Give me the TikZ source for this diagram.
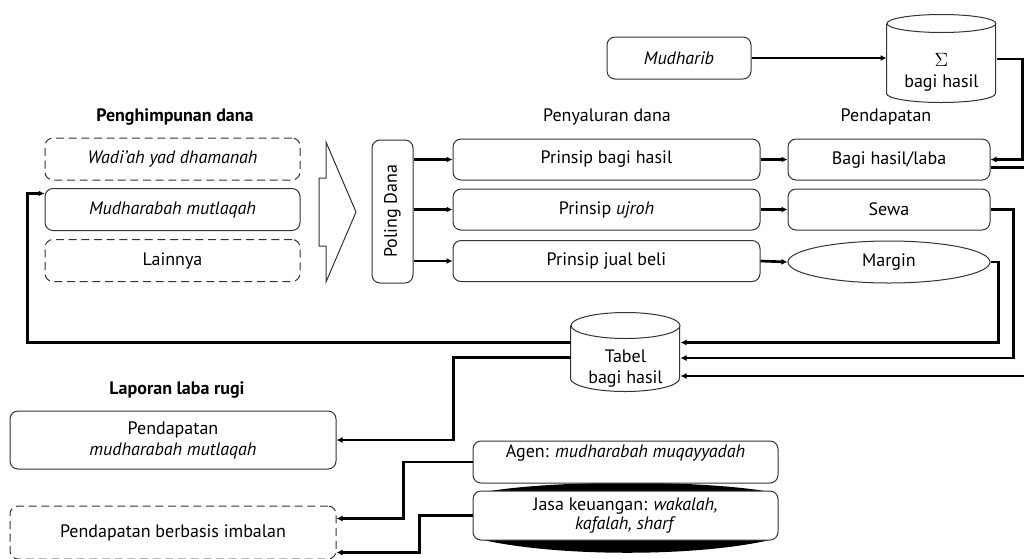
\documentclass[tikz,border=0pt]{standalone}
\usepackage{fontspec}
\setmainfont{PT Sans}
\usepackage{graphicx}
\usetikzlibrary{shapes.geometric,arrows.meta,calc}

\tikzset{every picture/.style={line width=0.75pt}}
\tikzset{
  txt/.style={font=\fontsize{13.5}{15.75}\selectfont},
  head/.style={font=\fontsize{13.5}{15.75}\selectfont\bfseries},
  box/.style={txt, draw=black!80, rounded corners=6pt, fill=white, inner sep=0pt},
  dashbox/.style={box, dash pattern=on 6pt off 3.5pt},
  lbox/.style={box, minimum width=191.25pt, minimum height=31.5pt},
  pbox/.style={box, minimum width=230.25pt, minimum height=30.75pt},
  rbox/.style={box, minimum width=151.5pt, minimum height=30.75pt},
  can/.style={draw=black!80, fill=white},
  conn/.style={line width=2pt, -{Latex[length=4.5pt,width=4.5pt]}}
}

\begin{document}
\begin{tikzpicture}[x=0.75pt,y=0.75pt,yscale=-1,xscale=1]
\useasboundingbox (0,0) rectangle (1024,558);

% Text Node
\node[head] (thimpun) at (175,117) {Penghimpunan dana};
\node[txt] (tsalur) at (607,117) {Penyaluran dana};
\node[txt] (tdapat) at (886,117) {Pendapatan};
\node[head] (tlapor) at (177,390) {Laporan laba rugi};

%Shape: Rectangle
\node[lbox, dash pattern=on 6pt off 3.5pt] (wadiah) at (172.5,159) {\textit{Wadi'ah yad dhamanah}};
\node[lbox] (mutlaq) at (172.5,209.5) {\textit{Mudharabah mutlaqah}};
\node[lbox, dash pattern=on 6pt off 3.5pt] (lain) at (172.5,260.5) {Lainnya};

%Shape: Arrow
\draw[draw=black!80] (326,142) -- (356,212) -- (326,282) -- (326,246) -- (319,246) -- (319,178) -- (326,178) -- cycle;

%Shape: Rectangle
\node[box, minimum width=30.75pt, minimum height=107.25pt] (poling) at (392.5,211.5) {\rotatebox{90}{Poling Dana}};

\node[pbox] (pbagi) at (606.5,159.5) {Prinsip bagi hasil};
\node[pbox] (pujroh) at (606.5,209.5) {Prinsip \textit{ujroh}};
\node[pbox] (pjual) at (606.5,261) {Prinsip jual beli};

\node[rbox] (bagi) at (889,159.5) {Bagi hasil/laba};
\node[rbox] (sewa) at (889,209.5) {Sewa};
%Shape: Ellipse
\node[txt, ellipse, draw=black!80, minimum width=151.5pt, minimum height=31.5pt, inner sep=0pt] (margin) at (889,262) {Margin};

\node[box, minimum width=108pt, minimum height=31.5pt] (mudharib) at (679,58) {\textit{Mudharib}};

%Shape: Can
\node[minimum width=81.75pt, minimum height=66pt, inner sep=0pt] (sigma) at (941.5,59) {};
\draw[can] (sigma.north west) ++(0,9) -- ++(0,70) arc[start angle=180, end angle=0, x radius=54.5, y radius=9] -- ++(0,-70);
\draw[can] (sigma.north) ++(0,9) ellipse[x radius=54.5, y radius=9];
\node[txt, align=center] (tsigma) at (941.5,72.5) {$\Sigma$\\bagi hasil};

\node[minimum width=81.75pt, minimum height=59.25pt, inner sep=0pt] (tabel) at (625.5,352.5) {};
\draw[can] (tabel.north west) ++(0,13) -- ++(0,53) arc[start angle=180, end angle=0, x radius=54.5, y radius=13] -- ++(0,-53);
\draw[can] (tabel.north) ++(0,13) ellipse[x radius=54.5, y radius=13];
\node[txt, align=center] (ttabel) at (625.5,369) {Tabel\\bagi hasil};

%Shape: Rectangle
\node[box, align=center, minimum width=244.5pt, minimum height=43.5pt] (pmutlaq) at (173,440) {Pendapatan\\\textit{mudharabah mutlaqah}};
\node[dashbox, minimum width=244.5pt, minimum height=39.75pt] (imbalan) at (173,532.5) {Pendapatan berbasis imbalan};

%Shape: Lens
\fill (490,491) .. controls (560,480) and (695,480) .. (765,491) -- cycle;
\fill (483,540) .. controls (560,557) and (695,557) .. (770,540) -- cycle;

\node[box, minimum width=228.75pt, minimum height=31.5pt, text height=9pt, text depth=16pt] (agen) at (625.5,462) {Agen: \textit{mudharabah muqayyadah}};
\node[box, align=center, font=\fontsize{13.5}{14}\selectfont, minimum width=228.75pt, minimum height=36.75pt] (jasa) at (625.5,515.5) {Jasa keuangan: \textit{wakalah,}\\\textit{kafalah, sharf}};

%Straight Lines
\foreach \n in {pbagi,pujroh,pjual}
  \draw[conn] (poling.east |- \n.west) -- (\n.west);
\draw[conn] (pbagi.east) -- (bagi.west);
\draw[conn] (pujroh.east) -- (sewa.west);
\draw[conn] (pjual.east) -- (margin.west);
\draw[conn] (mudharib.east) -- (mudharib.east -| sigma.west);

\draw[conn] (sigma.east) -- ++(26,0) |- (bagi.east);
\draw[conn] ($(bagi.east)+(0,8)$) -- ++(36,0) |- ($(tabel.east)+(0,23.5)$);
\draw[conn] (sewa.east) -- ++(23,0) |- ($(tabel.east)+(0,5.5)$);
\draw[conn] (margin.east) -- ++(8,0) |- ($(tabel.east)+(0,-10)$);

\draw[conn] ($(tabel.west)+(0,-10)$) -| ($(mutlaq.west)+(-17,-16)$) -- ($(mutlaq.west)+(0,-16)$);
\draw[conn] ($(tabel.west)+(0,5)$) -| ($(pmutlaq.east)+(117,0)$) -- (pmutlaq.east);

\draw[conn] (agen.west) -| ($(imbalan.east)+(67,-14)$) -- ($(imbalan.east)+(0,-14)$);
\draw[conn] (jasa.west) -| ($(imbalan.east)+(83,20)$) -- ($(imbalan.east)+(0,20)$);

\end{tikzpicture}
\end{document}
